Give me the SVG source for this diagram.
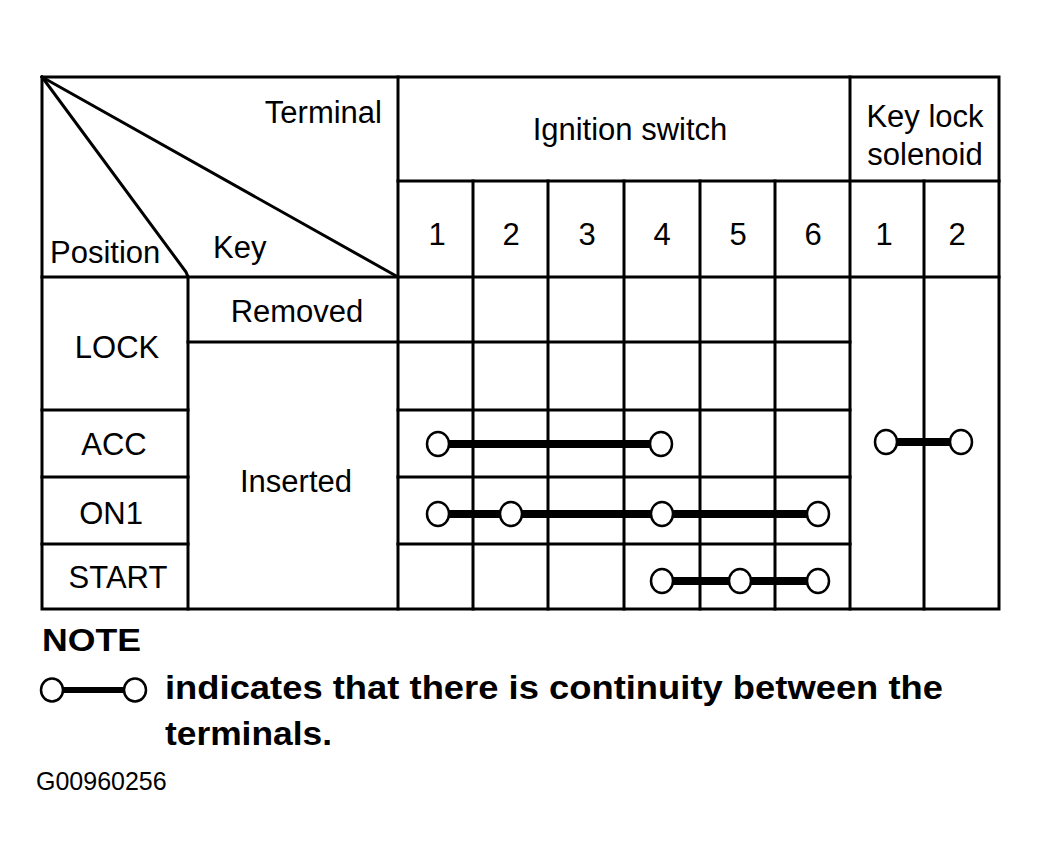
<svg xmlns="http://www.w3.org/2000/svg" width="1038" height="866" viewBox="0 0 1038 866">
<style>
.ln{stroke:#000;stroke-width:3;fill:none;stroke-linecap:square}
.t{font-family:"Liberation Sans",Arial,sans-serif;font-size:31px;fill:#000}
.m{text-anchor:middle}
.b{font-weight:bold}
.bar{stroke:#000;stroke-width:8;fill:none}
.c{fill:#fff;stroke:#000;stroke-width:2.5}
</style>
<rect width="1038" height="866" fill="#fff"/>
<g id="grid">
<rect class="ln" x="42" y="77" width="957" height="532"/>
<line class="ln" x1="398" y1="77" x2="398" y2="609"/>
<line class="ln" x1="850" y1="77" x2="850" y2="609"/>
<line class="ln" x1="398" y1="181" x2="999" y2="181"/>
<line class="ln" x1="42" y1="277" x2="999" y2="277"/>
<line class="ln" x1="188" y1="277" x2="188" y2="609"/>
<line class="ln" x1="188" y1="342" x2="850" y2="342"/>
<line class="ln" x1="42" y1="410" x2="188" y2="410"/>
<line class="ln" x1="42" y1="477" x2="188" y2="477"/>
<line class="ln" x1="42" y1="544" x2="188" y2="544"/>
<line class="ln" x1="398" y1="410" x2="850" y2="410"/>
<line class="ln" x1="398" y1="477" x2="850" y2="477"/>
<line class="ln" x1="398" y1="544" x2="850" y2="544"/>
<line class="ln" x1="473" y1="181" x2="473" y2="609"/>
<line class="ln" x1="548" y1="181" x2="548" y2="609"/>
<line class="ln" x1="624" y1="181" x2="624" y2="609"/>
<line class="ln" x1="700" y1="181" x2="700" y2="609"/>
<line class="ln" x1="775" y1="181" x2="775" y2="609"/>
<line class="ln" x1="924" y1="181" x2="924" y2="609"/>
<line class="ln" x1="42" y1="77" x2="398" y2="277"/>
<polyline class="ln" points="42,77 186,272 188,277"/>
</g>
<g id="headers">
<text class="t" x="382" y="123" text-anchor="end">Terminal</text>
<text class="t" x="50" y="263">Position</text>
<text class="t" x="213" y="258">Key</text>
<text class="t m" x="630" y="140">Ignition switch</text>
<text class="t m" x="925" y="127">Key lock</text>
<text class="t m" x="925" y="165">solenoid</text>
<text class="t m" x="437" y="245">1</text>
<text class="t m" x="511" y="245">2</text>
<text class="t m" x="587" y="245">3</text>
<text class="t m" x="662" y="245">4</text>
<text class="t m" x="738" y="245">5</text>
<text class="t m" x="813" y="245">6</text>
<text class="t m" x="884" y="245">1</text>
<text class="t m" x="957" y="245">2</text>
</g>
<g id="rows">
<text class="t m" x="117" y="358">LOCK</text>
<text class="t m" x="297" y="322">Removed</text>
<text class="t m" x="296" y="492">Inserted</text>
<text class="t m" x="114" y="455">ACC</text>
<text class="t m" x="111" y="524">ON1</text>
<text class="t m" x="118" y="588">START</text>
</g>
<g id="connectors">
<line class="bar" x1="438" y1="444" x2="661" y2="444"/>
<line class="bar" x1="438" y1="514" x2="818" y2="514"/>
<line class="bar" x1="662" y1="581" x2="818" y2="581"/>
<line class="bar" x1="886" y1="442" x2="961" y2="442"/>
<line class="bar" x1="52" y1="690" x2="135" y2="690" style="stroke-width:6"/>
</g>
<g id="terminals">
<ellipse class="c" cx="438" cy="444" rx="11" ry="12"/>
<ellipse class="c" cx="661" cy="444" rx="11" ry="12"/>
<ellipse class="c" cx="438" cy="514" rx="11" ry="12"/>
<ellipse class="c" cx="511" cy="514" rx="11" ry="12"/>
<ellipse class="c" cx="662" cy="514" rx="11" ry="12"/>
<ellipse class="c" cx="818" cy="514" rx="11" ry="12"/>
<ellipse class="c" cx="662" cy="581" rx="11" ry="12"/>
<ellipse class="c" cx="740" cy="581" rx="11" ry="12"/>
<ellipse class="c" cx="818" cy="581" rx="11" ry="12"/>
<ellipse class="c" cx="886" cy="442" rx="11" ry="12"/>
<ellipse class="c" cx="961" cy="442" rx="11" ry="12"/>
<ellipse class="c" cx="52" cy="690" rx="11" ry="11.5"/>
<ellipse class="c" cx="135" cy="690" rx="11" ry="11.5"/>
</g>
<g id="note">
<text class="t b" x="42" y="651" style="font-size:32px" textLength="99" lengthAdjust="spacingAndGlyphs">NOTE</text>
<text class="t b" x="165" y="699" style="font-size:33px" textLength="778" lengthAdjust="spacingAndGlyphs">indicates that there is continuity between the</text>
<text class="t b" x="165" y="745" style="font-size:33px" textLength="167" lengthAdjust="spacingAndGlyphs">terminals.</text>
<text class="t" x="36" y="790" style="font-size:25px">G00960256</text>
</g>
</svg>
